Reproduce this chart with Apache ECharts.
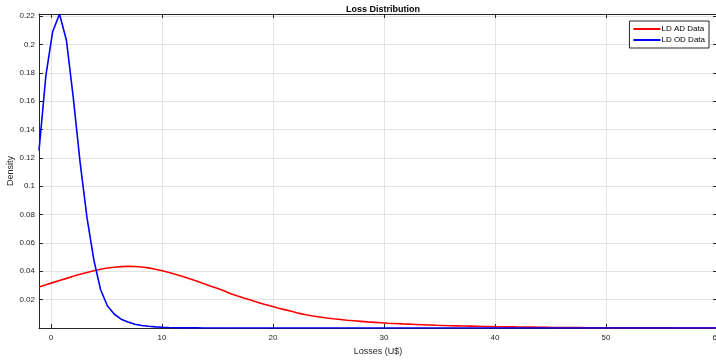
<!DOCTYPE html>
<html>
<head>
<meta charset="utf-8">
<script src="https://cdn.jsdelivr.net/npm/echarts@6/dist/echarts.min.js"></script>
<style>html,body{margin:0;padding:0;background:#fff;overflow:hidden;}#c{width:716px;height:364px;}</style>
</head>
<body>
<div id="c"></div>
<script>
// Evaluation grid (losses, U$)
var xValues = [-1.08,-0.46,0.15,0.77,1.39,2.00,2.62,3.24,3.86,4.47,5.09,5.71,6.32,6.94,7.56,8.17,8.79,9.41,10.03,10.64,
11.26,11.88,12.49,13.11,13.73,14.34,14.96,15.58,16.20,16.81,17.43,18.05,18.66,19.28,19.90,20.51,21.13,21.75,22.36,22.98,
23.60,24.22,24.83,25.45,26.07,26.68,27.30,27.92,28.53,29.15,29.77,30.39,31.00,31.62,32.24,32.85,33.47,34.09,34.70,35.32,
35.94,36.56,37.17,37.79,38.41,39.02,39.64,40.26,40.87,41.49,42.11,42.72,43.34,43.96,44.58,45.19,45.81,46.43,47.04,47.66,
48.28,48.89,49.51,50.13,50.75,51.36,51.98,52.60,53.21,53.83,54.45,55.06,55.68,56.30,56.92,57.53,58.15,58.77,59.38,60.00];

var ldAD = [0.0290,0.0305,0.0320,0.0335,0.0350,0.0365,0.0379,0.0392,0.0404,0.0414,0.0423,0.0429,0.0433,0.0435,0.0434,0.0430,0.0424,0.0415,0.0404,0.0392,
0.0378,0.0363,0.0347,0.0331,0.0314,0.0297,0.0280,0.0263,0.0242,0.0226,0.0210,0.0195,0.0180,0.0166,0.0153,0.0140,0.0128,0.0116,0.0103,0.0093,
0.0085,0.0078,0.0071,0.0065,0.0060,0.0055,0.0051,0.0047,0.0043,0.0040,0.0037,0.0034,0.0032,0.0029,0.0027,0.0025,0.0023,0.0021,0.0019,0.0018,
0.0016,0.0015,0.0014,0.0013,0.0012,0.0011,0.0010,0.0009,0.0008,0.0008,0.0007,0.0006,0.0006,0.0005,0.0005,0.0004,0.0004,0.0003,0.0003,0.0003,
0.0002,0.0002,0.0002,0.0002,0.0001,0.0001,0.0001,0.0001,0.0001,0.0001,0.0001,0.0001,0.0001,0,0,0,0,0,0,0];

var ldOD = [0.1250,0.1780,0.2090,0.2214,0.2030,0.1630,0.1170,0.0780,0.0480,0.0270,0.0155,0.0097,0.0062,0.0042,0.0027,0.0018,0.0012,0.0008,0.0005,0.0003,
0.0002,0.00012,0.00008,0.00006,0.00004,0.00003,0.00002,0.00001,0,0,0,0,0,0,0,0,0,0,0,0,
0,0,0,0,0,0,0,0,0,0,0,0,0,0,0,0,0,0,0,0,
0,0,0,0,0,0,0,0,0,0,0,0,0,0,0,0,0,0,0,0,
0,0,0,0,0,0,0,0,0,0,0,0,0,0,0,0,0,0,0,0];

var seriesNames = ['LD AD Data', 'LD OD Data'];
var xTickStep = 10;
var yTickStep = 0.02;

function pairs(xs, ys) { return xs.map(function (x, i) { return [x, ys[i]]; }); }

var FONT = 'Liberation Sans, Arial, Helvetica, sans-serif';
var AX = '#262626';
var GRIDC = '#e3e3e3';

function isMultiple(v, step) { var r = v / step; return Math.abs(r - Math.round(r)) < 1e-6; }

var chart = echarts.init(document.getElementById('c'), null, {renderer: 'canvas'});
var xMin = -1.08, xMax = 60, yMin = 0, yMax = 0.2215;
var baseX = {
  type: 'value', min: xMin, max: xMax, splitNumber: 6,
  axisLine: {show: true, onZero: false, lineStyle: {color: AX, width: 1}},
  axisTick: {show: true, inside: true, length: 4, lineStyle: {color: AX, width: 1},
    customValues: [0, 10, 20, 30, 40, 50, 60]},
};
var baseY = {
  type: 'value', min: yMin, max: yMax, interval: yTickStep,
  axisLine: {show: true, onZero: false, lineStyle: {color: AX, width: 1}},
  axisTick: {show: true, inside: true, length: 4, lineStyle: {color: AX, width: 1}},
};

chart.setOption({
  backgroundColor: '#ffffff',
  animation: false,
  title: {
    text: 'Loss Distribution', left: 378, top: 0, textAlign: 'center',
    textStyle: {fontFamily: FONT, fontSize: 9, fontWeight: 'bold', color: '#000'}
  },
  graphic: [{
    type: 'text', x: 11, y: 171, rotation: Math.PI / 2,
    style: {text: 'Density', fontFamily: FONT, fontSize: 9, fill: AX, align: 'center', verticalAlign: 'middle'}
  }],
  legend: {
    data: seriesNames, orient: 'vertical', right: 7, top: 21,
    padding: [3, 4, 3, 4], itemGap: 1, itemWidth: 27, itemHeight: 2, icon: 'rect',
    borderColor: AX, borderWidth: 1, backgroundColor: '#fff',
    textStyle: {fontFamily: FONT, fontSize: 8, color: '#000', lineHeight: 10, padding: [0, 0, 0, -4]}
  },
  grid: {left: 39, right: -1, top: 14, bottom: 36, containLabel: false, outerBoundsMode: 'none'},
  xAxis: [
    Object.assign({}, baseX, {
      position: 'bottom',
      name: 'Losses (U$)', nameLocation: 'middle', nameGap: 19,
      nameTextStyle: {fontFamily: FONT, fontSize: 9, color: AX},
      axisLabel: {show: true, margin: 6, fontFamily: FONT, fontSize: 8, color: AX,
        showMinLabel: true, showMaxLabel: true, hideOverlap: false,
        formatter: function (v) { return isMultiple(v, xTickStep) ? String(v) : ''; }},
      splitLine: {show: true, lineStyle: {color: GRIDC, width: 1}}
    }),
    Object.assign({}, baseX, {
      position: 'top', axisLabel: {show: false}, splitLine: {show: false}
    })
  ],
  yAxis: [
    Object.assign({}, baseY, {
      position: 'left',
      axisLabel: {show: true, margin: 4, fontFamily: FONT, fontSize: 8, color: AX,
        formatter: function (v) { return (v > 0 && isMultiple(v, yTickStep)) ? String(+v.toFixed(2)) : ''; }},
      splitLine: {show: true, lineStyle: {color: GRIDC, width: 1}}
    }),
    Object.assign({}, baseY, {
      position: 'right', axisLabel: {show: false}, splitLine: {show: false}
    })
  ],
  series: [
    {
      name: seriesNames[0], type: 'line', data: pairs(xValues, ldAD),
      xAxisIndex: 0, yAxisIndex: 0, symbol: 'none', smooth: false,
      lineStyle: {color: '#ff0000', width: 1.6}, itemStyle: {color: '#ff0000'}, z: 3
    },
    {
      name: seriesNames[1], type: 'line', data: pairs(xValues, ldOD),
      xAxisIndex: 0, yAxisIndex: 0, symbol: 'none', smooth: false,
      lineStyle: {color: '#0000ff', width: 1.6}, itemStyle: {color: '#0000ff'}, z: 4
    }
  ]
});
</script>
</body>
</html>
